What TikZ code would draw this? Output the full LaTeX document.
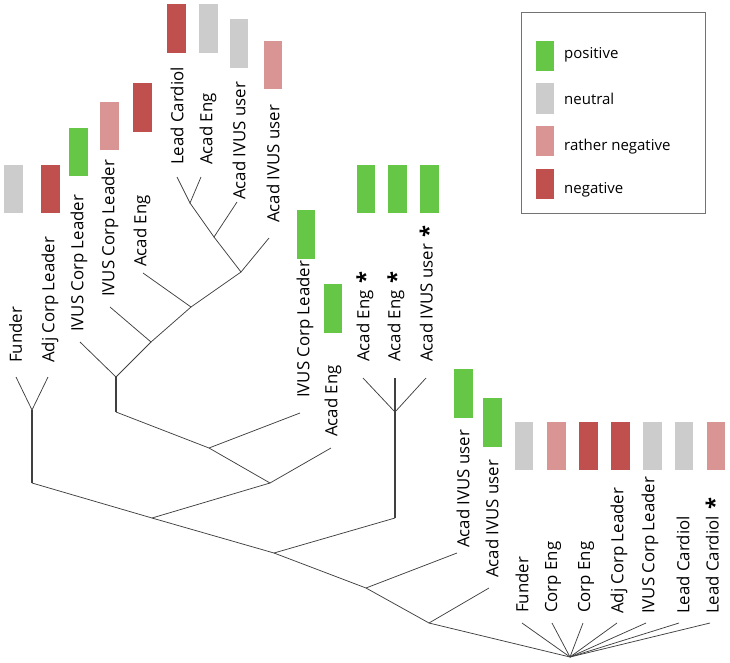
\documentclass[tikz,border=0pt]{standalone}
\usepackage{fontspec}
\setmainfont{Open Sans}
\definecolor{cpos}{HTML}{66C645}
\definecolor{cneu}{HTML}{CCCCCC}
\definecolor{crneg}{HTML}{D99594}
\definecolor{cneg}{HTML}{C0504D}
\definecolor{cline}{HTML}{404040}
\newcommand{\stmark}{\hspace{0.4em}\raisebox{-0.22em}{\fontsize{22}{22}\selectfont\bfseries *}}
\begin{document}
\begin{tikzpicture}[x=1pt,y=-1pt,
  lbl/.style={rotate=90,anchor=west,inner sep=0pt,font=\fontsize{16.8}{18}\selectfont},
  edge/.style={draw=cline,line width=0.75pt},
  vedge/.style={draw=cline,line width=1.1pt},
  box/.style={draw=none,minimum width=18.5pt,minimum height=48.5pt,inner sep=0pt},
  sw/.style={draw=none,minimum width=18.5pt,minimum height=30.5pt,inner sep=0pt},
  legtxt/.style={anchor=base west,inner sep=0pt,font=\fontsize{15}{17}\selectfont}]
\useasboundingbox (0,0) rectangle (730,662);

% ---------- colour boxes ----------
\node[box,fill=cneu]  (b1)  at (13.5,189) {};
\node[box,fill=cneg]  (b2)  at (50.5,189) {};
\node[box,fill=cpos]  (b3)  at (78.5,152) {};
\node[box,fill=crneg] (b4)  at (109.5,126) {};
\node[box,fill=cneg]  (b5)  at (142.5,107.5) {};
\node[box,fill=cneg]  (b6)  at (176.5,28.5) {};
\node[box,fill=cneu]  (b7)  at (208.5,28.5) {};
\node[box,fill=cneu]  (b8)  at (239,43.5) {};
\node[box,fill=crneg] (b9)  at (273,65) {};
\node[box,fill=cpos]  (b10) at (306,234.5) {};
\node[box,fill=cpos]  (b11) at (333,308.5) {};
\node[box,fill=cpos]  (b12) at (366,189) {};
\node[box,fill=cpos]  (b13) at (397.5,189) {};
\node[box,fill=cpos]  (b14) at (429.5,189) {};
\node[box,fill=cpos]  (b15) at (463.5,393.5) {};
\node[box,fill=cpos]  (b16) at (492.5,422.5) {};
\node[box,fill=cneu]  (b17) at (524,446) {};
\node[box,fill=crneg] (b18) at (556.5,446) {};
\node[box,fill=cneg]  (b19) at (588.5,446) {};
\node[box,fill=cneg]  (b20) at (620.5,446) {};
\node[box,fill=cneu]  (b21) at (652.5,446) {};
\node[box,fill=cneu]  (b22) at (684,446) {};
\node[box,fill=crneg] (b23) at (716,446) {};

% ---------- labels ----------
\node[lbl] (l1)  at (15.5,363) {Funder};
\node[lbl] (l2)  at (50,363)   {Adj Corp Leader};
\node[lbl] (l3)  at (79,332)   {IVUS Corp Leader};
\node[lbl] (l4)  at (110,297)  {IVUS Corp Leader};
\node[lbl] (l5)  at (142,267)  {Acad Eng};
\node[lbl] (l6)  at (177,165)  {Lead Cardiol};
\node[lbl] (l7)  at (208,165)  {Acad Eng};
\node[lbl] (l8)  at (239,200)  {Acad IVUS user};
\node[lbl] (l9)  at (273,223)  {Acad IVUS user};
\node[lbl] (l10) at (305,398)  {IVUS Corp Leader};
\node[lbl] (l11) at (333,437)  {Acad Eng};
\node[lbl] (l12) at (365,362)  {Acad Eng\stmark};
\node[lbl] (l13) at (396,362)  {Acad Eng\stmark};
\node[lbl] (l14) at (428,362)  {Acad IVUS user\stmark};
\node[lbl] (l15) at (463,548)  {Acad IVUS user};
\node[lbl] (l16) at (492,578)  {Acad IVUS user};
\node[lbl] (l17) at (522,613)  {Funder};
\node[lbl] (l18) at (553,613)  {Corp Eng};
\node[lbl] (l19) at (586,613)  {Corp Eng};
\node[lbl] (l20) at (619,614)  {Adj Corp Leader};
\node[lbl] (l21) at (650,614)  {IVUS Corp Leader};
\node[lbl] (l22) at (683,614)  {Lead Cardiol};
\node[lbl] (l23) at (714,614)  {Lead Cardiol\stmark};

% ---------- tree points ----------
\coordinate (p6)  at (177,177);
\coordinate (p7)  at (201,177);
\coordinate (n1)  at (190,203);
\coordinate (p8)  at (237,202);
\coordinate (n2)  at (214,237);
\coordinate (p9)  at (269,238);
\coordinate (n3)  at (241,272);
\coordinate (p5)  at (143,273);
\coordinate (n4)  at (191,307);
\coordinate (p4)  at (110,307);
\coordinate (n5)  at (151,342);
\coordinate (p3)  at (80,342);
\coordinate (n6)  at (116,377);
\coordinate (n6b) at (116,412);
\coordinate (p1)  at (16,377);
\coordinate (p2)  at (48,377);
\coordinate (y1)  at (32,410);
\coordinate (y1b) at (32,483);
\coordinate (p10) at (300,413);
\coordinate (ne)  at (209,448);
\coordinate (p11) at (331,448);
\coordinate (nd)  at (270,483);
\coordinate (nc)  at (152,518);
\coordinate (p12) at (363,378);
\coordinate (p13) at (395,378);
\coordinate (p14) at (426,378);
\coordinate (tf)  at (395,412);
\coordinate (tb)  at (395,518);
\coordinate (ng)  at (274,553);
\coordinate (p15) at (457,553);
\coordinate (nh)  at (366,588);
\coordinate (p16) at (489,588);
\coordinate (ni)  at (429,623);
\coordinate (nr)  at (570,657);
\coordinate (p17) at (522,623);
\coordinate (p18) at (552,623);
\coordinate (p19) at (583,623);
\coordinate (p20) at (617,623);
\coordinate (p21) at (646,623);
\coordinate (p22) at (679,623);
\coordinate (p23) at (710,623);

% ---------- edges ----------
\draw[edge] (p6) -- (n1) -- (p7);
\draw[edge] (n1) -- (n2) -- (p8);
\draw[edge] (n2) -- (n3) -- (p9);
\draw[edge] (n3) -- (n4) -- (p5);
\draw[edge] (n4) -- (n5) -- (p4);
\draw[edge] (n5) -- (n6) -- (p3);
\draw[vedge] (n6) -- (n6b);
\draw[edge] (p1) -- (y1) -- (p2);
\draw[vedge] (y1) -- (y1b);
\draw[edge] (n6b) -- (ne) -- (p10);
\draw[edge] (ne) -- (nd) -- (p11);
\draw[edge] (y1b) -- (nc) -- (nd);
\draw[edge] (p12) -- (tf) -- (p14);
\draw[vedge] (p13) -- (tb);
\draw[edge] (nc) -- (ng) -- (tb);
\draw[edge] (ng) -- (nh) -- (p15);
\draw[edge] (nh) -- (ni) -- (p16);
\draw[edge] (ni) -- (nr);
\foreach \q in {p17,p18,p19,p20,p21,p22,p23} \draw[edge] (nr) -- (\q);

% ---------- legend ----------
\node[draw=black!55,line width=0.8pt,minimum width=184pt,minimum height=200.5pt,inner sep=0pt] (leg) at (613,113) {};
\node[sw,fill=cpos]  (s1) at (545,56) {};
\node[sw,fill=cneu]  (s2) at (545,98.5) {};
\node[sw,fill=crneg] (s3) at (545,141) {};
\node[sw,fill=cneg]  (s4) at (545,184) {};
\node[legtxt] (t1) at (564,58)  {positive};
\node[legtxt] (t2) at (564,104) {neutral};
\node[legtxt] (t3) at (564,150) {rather negative};
\node[legtxt] (t4) at (564,193) {negative};
\end{tikzpicture}
\end{document}
